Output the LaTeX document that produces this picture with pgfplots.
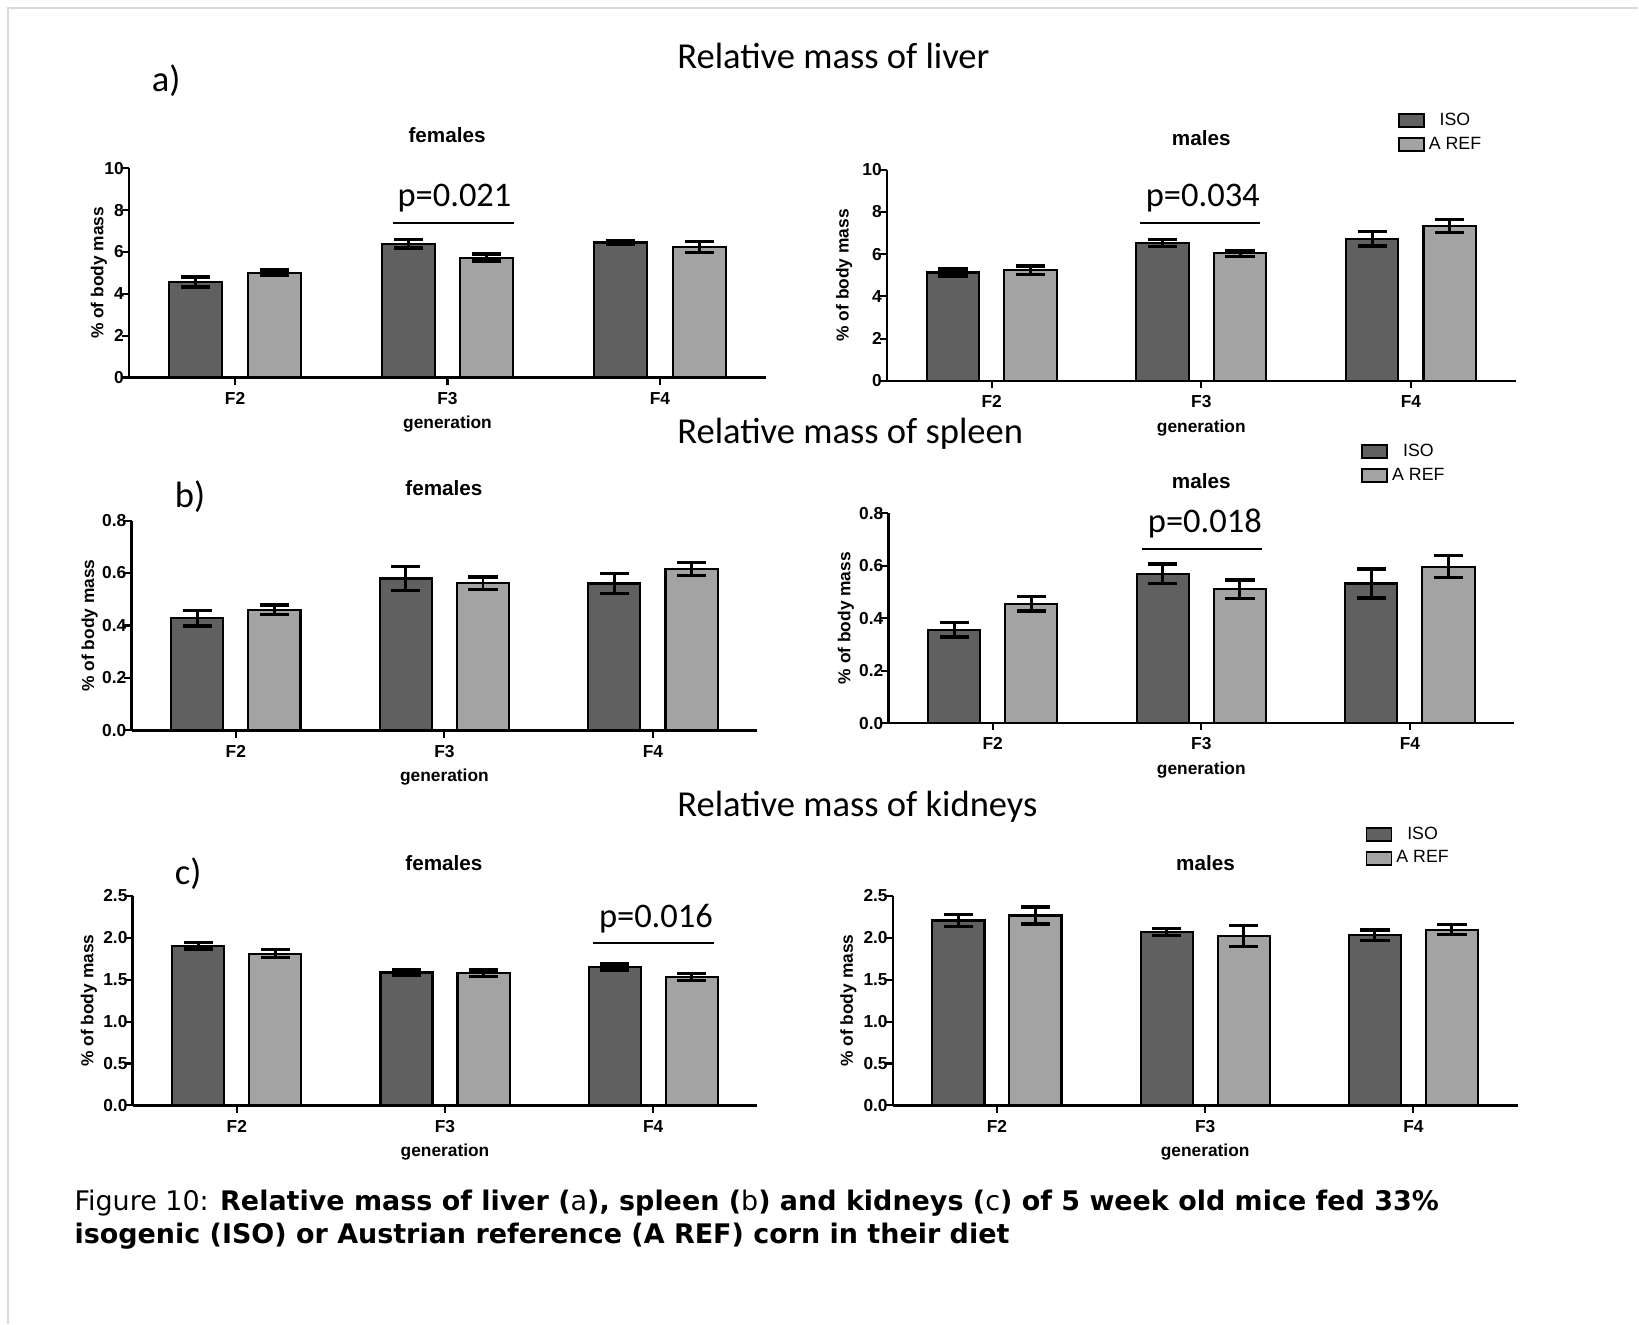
\documentclass[border=0pt]{standalone}
\usepackage{pgfplots}
\pgfplotsset{compat=1.18}
\usepackage{pgfplotstable}
\usepackage{fontspec}
\setmainfont{Liberation Sans}
\newfontfamily\calib{Carlito}
\newfontfamily\verd{DejaVu Sans}

\definecolor{isogray}{RGB}{96,96,96}
\definecolor{refgray}{RGB}{163,163,163}

% generation, mean, sem
\pgfplotstableread{
x iso isoerr aref areferr
0 4.57 0.24 5.00 0.14
1 6.39 0.20 5.73 0.17
2 6.45 0.10 6.23 0.26
}\liverF
\pgfplotstableread{
x iso isoerr aref areferr
0 5.13 0.17 5.24 0.20
1 6.53 0.17 6.04 0.14
2 6.72 0.34 7.33 0.32
}\liverM
\pgfplotstableread{
x iso isoerr aref areferr
0 0.427 0.029 0.460 0.018
1 0.579 0.046 0.561 0.024
2 0.560 0.037 0.615 0.024
}\spleenF
\pgfplotstableread{
x iso isoerr aref areferr
0 0.356 0.028 0.455 0.028
1 0.569 0.037 0.510 0.035
2 0.532 0.055 0.596 0.042
}\spleenM
\pgfplotstableread{
x iso isoerr aref areferr
0 1.904 0.040 1.810 0.050
1 1.585 0.036 1.575 0.040
2 1.650 0.035 1.530 0.040
}\kidneyF
\pgfplotstableread{
x iso isoerr aref areferr
0 2.205 0.070 2.265 0.100
1 2.067 0.040 2.023 0.125
2 2.030 0.060 2.095 0.060
}\kidneyM

\pgfplotsset{
  organ/.style={
    scale only axis,
    anchor=south west,
    ybar, bar width=0.25,
    xmin=-0.5, xmax=2.5, ymin=0,
    axis x line=bottom, axis y line=left,
    axis line style={-, line width=1.2pt},
    xtick={0,1,2}, xticklabels={F2,F3,F4},
    tick style={black, line width=1pt},
    tick align=outside,
    major tick length=3.5pt,
    ticklabel style={font=\bfseries\fontsize{8.3}{10}\selectfont},
    yticklabel style={inner sep=0pt, xshift=1.2pt},
    /pgf/number format/assume math mode=true,
    xlabel={generation},
    ylabel={\% of body mass},
    label style={font=\bfseries\fontsize{8.3}{10}\selectfont},
    xlabel style={at={(axis description cs:0.5,0)}, anchor=center, yshift=-22.5pt},
    clip=false,
    legend image code/.code={\draw[#1, line width=0.8pt] (0pt,-3.1pt) rectangle (12pt,3.1pt);},
    legend style={draw=none, fill=none, anchor=north west,
      font=\fontsize{8.5}{10}\selectfont, row sep=0pt},
  },
  onedec/.style={yticklabel style={/pgf/number format/.cd, fixed, fixed zerofill, precision=1}},
  iso/.style={fill=isogray, draw=black, line width=1pt, bar shift=-0.185,
    error bars/y dir=both, error bars/y explicit,
    error bars/error bar style={line width=1.4pt, black},
    error bars/error mark options={rotate=90, line width=1.6pt, mark size=7pt, black}},
  aref/.style={fill=refgray, draw=black, line width=1pt, bar shift=0.185,
    error bars/y dir=both, error bars/y explicit,
    error bars/error bar style={line width=1.4pt, black},
    error bars/error mark options={rotate=90, line width=1.6pt, mark size=7pt, black}},
}

\begin{document}
\begin{tikzpicture}
\begin{scope}[x=0.5pt, y=-0.5pt]
  \path (0,0) rectangle (1568,1267);
  \draw[gray!30, line width=1pt] (8,1267) -- (8,8) -- (1568,8);
  \begin{scope}[font=\calib\fontsize{17.5}{20}\selectfont, inner sep=0pt]
    \node[anchor=west] at (648,54) {Relative mass of liver};
    \node[anchor=west] at (648,415) {Relative mass of spleen};
    \node[anchor=west] at (648,772) {Relative mass of kidneys};
    \node[anchor=west] at (145,77) {a)};
    \node[anchor=west] at (167,475) {b)};
    \node[anchor=west] at (167,836) {c)};
  \end{scope}
  \begin{scope}[font=\bfseries\fontsize{9.9}{12}\selectfont]
    \node at (428,129) {females};
    \node at (425,467) {females};
    \node at (425,826) {females};
    \node at (1150,132) {males};
    \node at (1150,461) {males};
    \node at (1154,826) {males};
  \end{scope}
  \begin{scope}[font=\verd\fontsize{12.9}{15}\selectfont]
    \node[anchor=base west, inner sep=0pt] at (71,1158.6) {Figure 10: \textbf{Relative mass of liver (}a\textbf{), spleen (}b\textbf{) and kidneys (}c\textbf{) of 5 week old mice fed 33\%}};
    \node[anchor=base west, inner sep=0pt] at (71,1190) {\textbf{isogenic (ISO) or Austrian reference (A REF) corn in their diet}};
  \end{scope}
\end{scope}

% liver, females
\begin{axis}[organ, at={(61.7pt,-180.7pt)}, width=305pt, height=100.2pt,
  ymax=10, ytick={0,2,...,10},
  ylabel style={at={(axis description cs:-0.047,0.5)}, anchor=center}]
  \addplot[iso] table[x=x, y=iso, y error=isoerr] {\liverF};
  \addplot[aref] table[x=x, y=aref, y error=areferr] {\liverF};
  \draw[line width=0.9pt] (axis cs:0.742,7.37) -- (axis cs:1.313,7.37);
  \node[font=\calib\fontsize{16.5}{18}\selectfont] at (axis cs:1.033,8.56) {p=0.021};
\end{axis}

% liver, males
\begin{axis}[organ, at={(424.5pt,-182.3pt)}, width=301pt, height=101.1pt,
  ymax=10, ytick={0,2,...,10},
  ylabel style={at={(axis description cs:-0.068,0.5)}, anchor=center},
  legend style={at={(0.802,1.31)}}]
  \addplot[iso] table[x=x, y=iso, y error=isoerr] {\liverM};
  \addplot[aref] table[x=x, y=aref, y error=areferr] {\liverM};
  \legend{ISO, A REF}
  \draw[line width=0.9pt] (axis cs:0.706,7.46) -- (axis cs:1.282,7.46);
  \node[font=\calib\fontsize{16.5}{18}\selectfont] at (axis cs:1.007,8.64) {p=0.034};
\end{axis}

% spleen, females
\begin{axis}[organ, onedec, at={(62.95pt,-349.6pt)}, width=299.5pt, height=100.45pt,
  ymax=0.8, ytick={0,0.2,...,0.8},
  ylabel style={at={(axis description cs:-0.067,0.5)}, anchor=center}]
  \addplot[iso] table[x=x, y=iso, y error=isoerr] {\spleenF};
  \addplot[aref] table[x=x, y=aref, y error=areferr] {\spleenF};
\end{axis}

% spleen, males
\begin{axis}[organ, onedec, at={(425.25pt,-346.1pt)}, width=299.5pt, height=100.45pt,
  ymax=0.8, ytick={0,0.2,...,0.8},
  ylabel style={at={(axis description cs:-0.068,0.5)}, anchor=center},
  legend style={at={(0.745,1.372)}}]
  \addplot[iso] table[x=x, y=iso, y error=isoerr] {\spleenM};
  \addplot[aref] table[x=x, y=aref, y error=areferr] {\spleenM};
  \legend{ISO, A REF}
  \draw[line width=0.9pt] (axis cs:0.714,0.663) -- (axis cs:1.292,0.663);
  \node[font=\calib\fontsize{16.5}{18}\selectfont] at (axis cs:1.017,0.762) {p=0.018};
\end{axis}

% kidneys, females
\begin{axis}[organ, onedec, at={(63.5pt,-529.1pt)}, width=299pt, height=100.35pt,
  ymax=2.5, ytick={0,0.5,...,2.5},
  ylabel style={at={(axis description cs:-0.070,0.5)}, anchor=center}]
  \addplot[iso] table[x=x, y=iso, y error=isoerr] {\kidneyF};
  \addplot[aref] table[x=x, y=aref, y error=areferr] {\kidneyF};
  \draw[line width=0.9pt] (axis cs:1.71,1.94) -- (axis cs:2.29,1.94);
  \node[font=\calib\fontsize{16.5}{18}\selectfont] at (axis cs:2.013,2.232) {p=0.016};
\end{axis}

% kidneys, males
\begin{axis}[organ, onedec, at={(427.35pt,-529.1pt)}, width=299pt, height=100.35pt,
  ymax=2.5, ytick={0,0.5,...,2.5},
  ylabel style={at={(axis description cs:-0.071,0.5)}, anchor=center},
  legend style={at={(0.746,1.371)}}]
  \addplot[iso] table[x=x, y=iso, y error=isoerr] {\kidneyM};
  \addplot[aref] table[x=x, y=aref, y error=areferr] {\kidneyM};
  \legend{ISO, A REF}
\end{axis}
\end{tikzpicture}
\end{document}
